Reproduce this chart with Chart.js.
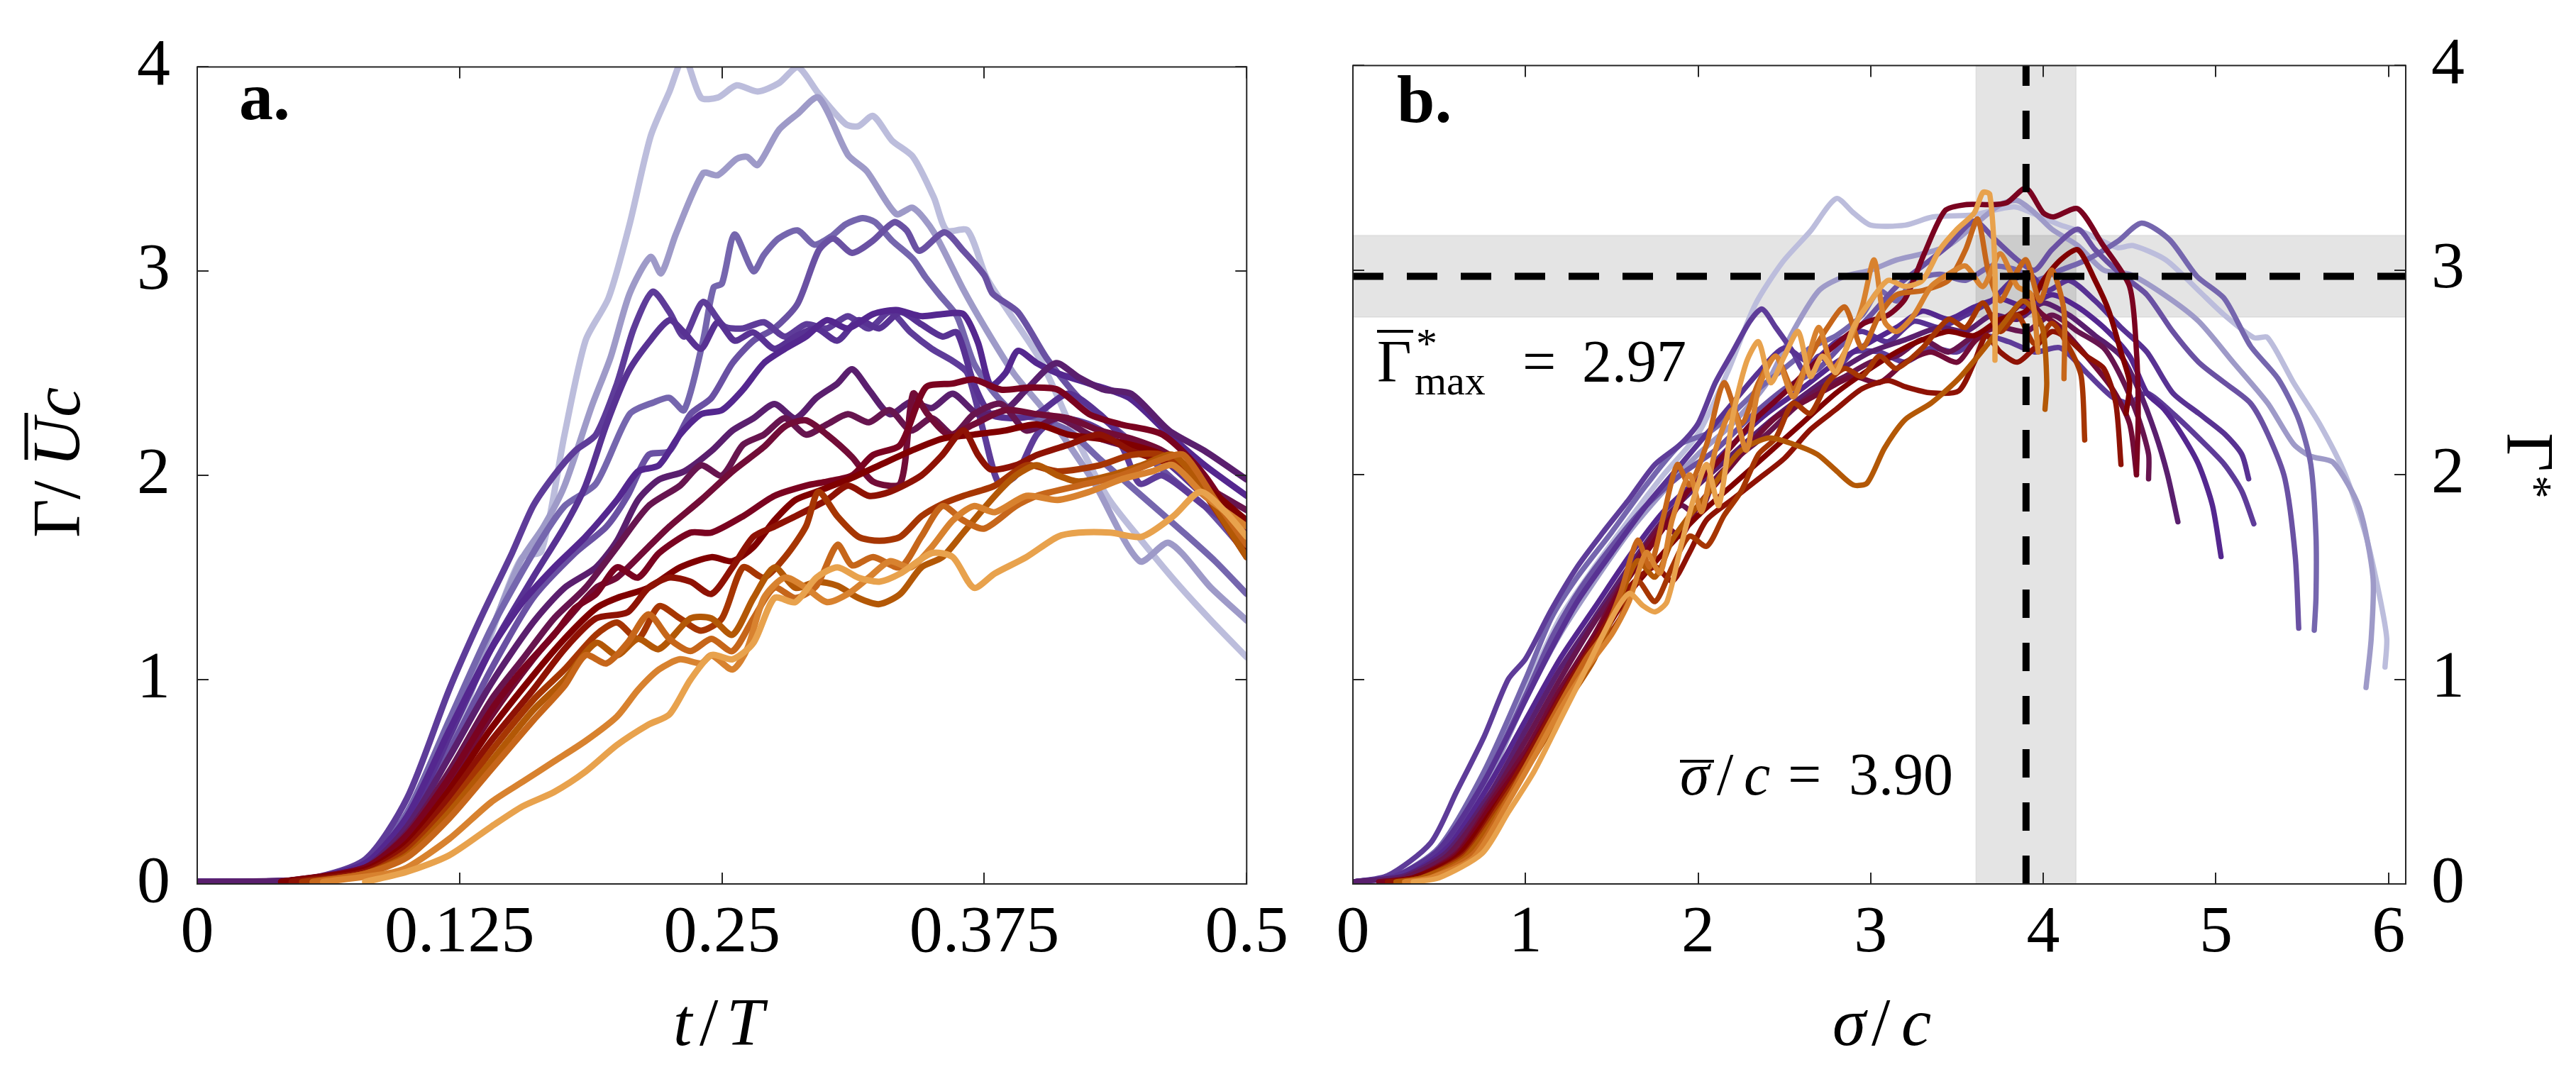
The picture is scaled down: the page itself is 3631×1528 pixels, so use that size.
<!DOCTYPE html>
<html><head><meta charset="utf-8">
<style>
html,body{margin:0;padding:0;background:#fff;width:3631px;height:1528px;overflow:hidden}
canvas{position:absolute;top:0}
#ca{left:0}
#cb{left:1830px}
.pre{position:absolute;left:-9999px;top:0;font-family:'Liberation Serif'}
</style>
<script src="https://cdn.jsdelivr.net/npm/chart.js@4.4.1/dist/chart.umd.min.js"></script>
</head><body>
<span class="pre">0 1 2 <i>t</i> <b>a.</b></span>
<canvas id="ca" width="1830" height="1528"></canvas>
<canvas id="cb" width="1801" height="1528"></canvas>
<script>
// ---------------- DATA ----------------
const aTicksX = [0, 0.125, 0.25, 0.375, 0.5];
const bTicksX = [0, 1, 2, 3, 4, 5, 6];
const yTicks = [0, 1, 2, 3, 4];
const bXMax = 6.1;
const gammaMax = 2.97, gammaHalf = 0.2;
const sigmaMean = 3.90, sigmaHalf = 0.29;

// Panel a: Gamma / (U c) versus t/T, one array per run ([t/T, value])
const a01 = [[0,0.01],[0.04,0.01],[0.07,0.05],[0.09,0.15],[0.106,0.34],[0.125,0.78],[0.138,1.16],[0.148,1.45],[0.155,1.6],[0.164,1.63],[0.175,2.2],[0.185,2.66],[0.196,2.87],[0.206,3.23],[0.216,3.66],[0.225,3.88],[0.232,4.05],[0.24,3.85],[0.248,3.85],[0.257,3.91],[0.267,3.88],[0.277,3.92],[0.286,4.0],[0.296,3.87],[0.309,3.72],[0.315,3.71],[0.322,3.76],[0.331,3.64],[0.341,3.56],[0.351,3.36],[0.357,3.2],[0.367,3.2],[0.376,2.97],[0.386,2.81],[0.402,2.56],[0.418,2.2],[0.434,1.89],[0.45,1.68],[0.467,1.47],[0.483,1.29],[0.5,1.11]];
const a02 = [[0,0.01],[0.04,0.01],[0.07,0.05],[0.09,0.15],[0.113,0.52],[0.129,0.96],[0.142,1.29],[0.154,1.58],[0.165,1.75],[0.175,1.95],[0.188,2.34],[0.197,2.58],[0.206,2.89],[0.216,3.07],[0.221,2.99],[0.228,3.18],[0.241,3.48],[0.248,3.47],[0.257,3.55],[0.262,3.56],[0.267,3.52],[0.277,3.69],[0.286,3.77],[0.296,3.85],[0.31,3.57],[0.319,3.49],[0.333,3.28],[0.341,3.31],[0.351,3.19],[0.365,2.91],[0.375,2.73],[0.389,2.5],[0.405,2.3],[0.427,1.97],[0.449,1.58],[0.463,1.67],[0.483,1.45],[0.5,1.29]];
const a03 = [[0,0.01],[0.05,0.02],[0.08,0.1],[0.1,0.35],[0.12,0.8],[0.14,1.25],[0.16,1.62],[0.175,1.85],[0.19,1.96],[0.206,2.3],[0.218,2.36],[0.225,2.38],[0.232,2.32],[0.241,2.66],[0.246,2.92],[0.25,2.94],[0.256,3.18],[0.265,3.0],[0.27,3.08],[0.277,3.16],[0.286,3.2],[0.294,3.13],[0.302,3.17],[0.309,3.23],[0.317,3.26],[0.323,3.24],[0.331,3.15],[0.341,3.06],[0.347,2.97],[0.354,2.88],[0.362,2.78],[0.37,2.55],[0.38,2.4],[0.39,2.3],[0.4,2.28],[0.415,2.22],[0.43,2.08],[0.45,1.9],[0.47,1.72],[0.485,1.58],[0.5,1.42]];
const a04 = [[0,0.01],[0.05,0.02],[0.08,0.1],[0.1,0.3],[0.12,0.65],[0.14,1.05],[0.16,1.4],[0.18,1.62],[0.195,1.75],[0.205,1.9],[0.215,2.1],[0.225,2.12],[0.235,2.3],[0.245,2.38],[0.255,2.55],[0.265,2.66],[0.275,2.72],[0.286,2.84],[0.296,3.1],[0.303,3.16],[0.312,3.09],[0.322,3.15],[0.332,3.24],[0.338,3.2],[0.344,3.1],[0.356,3.19],[0.365,3.1],[0.375,2.98],[0.379,2.89],[0.391,2.8],[0.405,2.57],[0.42,2.38],[0.435,2.25],[0.45,2.12],[0.465,1.98],[0.48,1.85],[0.5,1.62]];
const a05 = [[0,0.01],[0.05,0.02],[0.08,0.12],[0.1,0.42],[0.12,0.95],[0.135,1.3],[0.15,1.62],[0.16,1.85],[0.17,2.0],[0.18,2.12],[0.19,2.2],[0.2,2.45],[0.208,2.72],[0.217,2.9],[0.225,2.8],[0.232,2.68],[0.241,2.85],[0.251,2.73],[0.26,2.72],[0.27,2.75],[0.28,2.68],[0.29,2.74],[0.3,2.72],[0.31,2.78],[0.32,2.72],[0.33,2.8],[0.34,2.7],[0.35,2.62],[0.36,2.56],[0.367,2.5],[0.375,2.2],[0.382,1.96],[0.39,2.0],[0.4,2.2],[0.41,2.28],[0.425,2.25],[0.44,2.15],[0.449,1.96],[0.46,2.0],[0.48,1.85],[0.5,1.7]];
const a06 = [[0,0.01],[0.05,0.02],[0.08,0.1],[0.1,0.3],[0.12,0.72],[0.14,1.15],[0.16,1.5],[0.175,1.75],[0.185,1.95],[0.195,2.25],[0.205,2.5],[0.215,2.65],[0.225,2.76],[0.232,2.7],[0.24,2.62],[0.248,2.75],[0.256,2.66],[0.265,2.7],[0.275,2.62],[0.285,2.68],[0.295,2.72],[0.305,2.66],[0.315,2.76],[0.325,2.72],[0.335,2.8],[0.345,2.74],[0.355,2.68],[0.362,2.7],[0.37,2.45],[0.378,2.3],[0.39,2.28],[0.4,2.3],[0.415,2.4],[0.43,2.3],[0.445,2.15],[0.46,2.08],[0.48,1.9],[0.5,1.75]];
const a07 = [[0,0.01],[0.05,0.02],[0.08,0.1],[0.1,0.33],[0.12,0.75],[0.14,1.15],[0.155,1.38],[0.17,1.55],[0.185,1.7],[0.2,1.88],[0.21,2.02],[0.22,2.05],[0.23,2.2],[0.24,2.3],[0.25,2.32],[0.26,2.42],[0.27,2.55],[0.28,2.62],[0.29,2.68],[0.3,2.76],[0.31,2.72],[0.322,2.79],[0.333,2.81],[0.345,2.78],[0.355,2.79],[0.365,2.79],[0.372,2.65],[0.378,2.44],[0.385,2.5],[0.391,2.61],[0.4,2.55],[0.41,2.5],[0.425,2.45],[0.444,2.38],[0.463,2.2],[0.48,2.05],[0.5,1.9]];
const a08 = [[0,0.01],[0.05,0.02],[0.08,0.08],[0.1,0.28],[0.12,0.62],[0.14,0.98],[0.16,1.28],[0.175,1.45],[0.19,1.55],[0.2,1.68],[0.21,1.88],[0.22,1.98],[0.232,2.02],[0.245,2.12],[0.255,2.22],[0.265,2.28],[0.275,2.35],[0.285,2.28],[0.295,2.38],[0.305,2.45],[0.312,2.52],[0.32,2.42],[0.33,2.3],[0.34,2.36],[0.35,2.33],[0.36,2.4],[0.372,2.3],[0.385,2.32],[0.395,2.42],[0.409,2.55],[0.42,2.48],[0.432,2.42],[0.445,2.4],[0.463,2.22],[0.48,2.12],[0.5,1.98]];
const a09 = [[0.04,0.01],[0.08,0.08],[0.1,0.25],[0.12,0.55],[0.14,0.9],[0.155,1.1],[0.17,1.3],[0.185,1.45],[0.2,1.65],[0.215,1.85],[0.23,1.95],[0.24,2.05],[0.25,2.0],[0.26,2.15],[0.27,2.2],[0.28,2.28],[0.29,2.2],[0.3,2.25],[0.31,2.3],[0.32,2.26],[0.33,2.32],[0.34,2.22],[0.35,2.28],[0.36,2.2],[0.37,2.3],[0.383,2.35],[0.395,2.22],[0.41,2.28],[0.425,2.2],[0.44,2.15],[0.46,2.1],[0.48,1.95],[0.5,1.83]];
const a10 = [[0.04,0.01],[0.08,0.07],[0.1,0.22],[0.12,0.5],[0.14,0.82],[0.16,1.1],[0.175,1.28],[0.19,1.45],[0.2,1.5],[0.215,1.65],[0.225,1.75],[0.24,1.88],[0.255,2.02],[0.27,2.14],[0.28,2.24],[0.29,2.27],[0.3,2.2],[0.312,2.09],[0.322,1.97],[0.335,1.96],[0.341,2.4],[0.348,2.3],[0.358,2.2],[0.37,2.25],[0.385,2.32],[0.4,2.3],[0.415,2.28],[0.43,2.22],[0.445,2.18],[0.46,2.12],[0.48,1.98],[0.5,1.72]];
const a11 = [[0.04,0.01],[0.08,0.08],[0.1,0.24],[0.12,0.52],[0.14,0.85],[0.155,1.05],[0.17,1.22],[0.18,1.35],[0.19,1.42],[0.2,1.55],[0.21,1.5],[0.22,1.62],[0.235,1.72],[0.245,1.72],[0.26,1.8],[0.275,1.9],[0.29,1.95],[0.3,1.97],[0.312,2.0],[0.322,2.1],[0.335,2.15],[0.347,2.43],[0.36,2.45],[0.37,2.47],[0.383,2.42],[0.396,2.43],[0.41,2.42],[0.425,2.3],[0.44,2.25],[0.46,2.2],[0.48,2.0],[0.5,1.68]];
const a12 = [[0.04,0.01],[0.08,0.07],[0.1,0.2],[0.12,0.46],[0.14,0.76],[0.16,1.02],[0.175,1.2],[0.19,1.35],[0.2,1.4],[0.215,1.45],[0.23,1.55],[0.245,1.6],[0.255,1.58],[0.265,1.65],[0.275,1.78],[0.285,1.88],[0.295,1.92],[0.31,1.98],[0.325,2.05],[0.34,2.12],[0.355,2.18],[0.37,2.2],[0.385,2.22],[0.4,2.25],[0.415,2.2],[0.43,2.18],[0.445,2.15],[0.46,2.1],[0.48,1.95],[0.5,1.78]];
const a13 = [[0.045,0.01],[0.08,0.06],[0.1,0.18],[0.12,0.42],[0.14,0.7],[0.16,0.95],[0.175,1.15],[0.19,1.3],[0.205,1.33],[0.215,1.45],[0.225,1.5],[0.235,1.48],[0.245,1.42],[0.255,1.55],[0.265,1.7],[0.275,1.75],[0.285,1.8],[0.3,1.88],[0.31,1.95],[0.32,1.9],[0.33,1.92],[0.345,2.0],[0.355,2.1],[0.365,2.22],[0.372,2.1],[0.378,2.03],[0.39,2.05],[0.4,2.1],[0.415,2.15],[0.43,2.2],[0.445,2.12],[0.465,2.05],[0.48,1.95],[0.5,1.65]];
const a14 = [[0.05,0.01],[0.08,0.05],[0.1,0.16],[0.12,0.38],[0.14,0.65],[0.16,0.9],[0.175,1.05],[0.19,1.22],[0.2,1.28],[0.21,1.2],[0.22,1.36],[0.23,1.3],[0.24,1.24],[0.25,1.3],[0.26,1.55],[0.27,1.5],[0.28,1.6],[0.29,1.75],[0.296,1.92],[0.305,1.8],[0.315,1.7],[0.325,1.68],[0.335,1.7],[0.345,1.8],[0.355,1.86],[0.365,1.9],[0.38,1.95],[0.395,2.05],[0.41,2.02],[0.43,2.05],[0.445,2.1],[0.46,2.1],[0.475,1.98],[0.5,1.6]];
const a15 = [[0.055,0.01],[0.08,0.05],[0.1,0.14],[0.12,0.35],[0.14,0.6],[0.16,0.85],[0.175,1.0],[0.19,1.18],[0.2,1.12],[0.21,1.2],[0.22,1.15],[0.235,1.3],[0.245,1.3],[0.255,1.22],[0.265,1.4],[0.275,1.55],[0.285,1.45],[0.295,1.48],[0.305,1.46],[0.315,1.4],[0.325,1.37],[0.335,1.42],[0.345,1.55],[0.355,1.6],[0.365,1.72],[0.38,1.9],[0.39,2.0],[0.4,2.05],[0.41,2.0],[0.42,1.97],[0.435,2.0],[0.45,2.05],[0.465,2.1],[0.48,1.92],[0.5,1.6]];
const a16 = [[0.055,0.01],[0.08,0.05],[0.1,0.13],[0.12,0.32],[0.14,0.56],[0.16,0.8],[0.175,0.97],[0.185,1.12],[0.195,1.08],[0.205,1.18],[0.215,1.32],[0.225,1.2],[0.235,1.14],[0.245,1.2],[0.255,1.14],[0.265,1.3],[0.275,1.45],[0.285,1.4],[0.295,1.46],[0.305,1.66],[0.312,1.56],[0.322,1.6],[0.335,1.55],[0.345,1.7],[0.355,1.85],[0.365,1.78],[0.375,1.74],[0.39,1.85],[0.4,1.9],[0.42,1.95],[0.44,2.0],[0.46,2.08],[0.47,2.1],[0.485,1.88],[0.5,1.66]];
const a17 = [[0.06,0.01],[0.09,0.05],[0.1,0.08],[0.12,0.22],[0.14,0.4],[0.155,0.5],[0.17,0.6],[0.185,0.7],[0.2,0.82],[0.21,0.95],[0.22,1.05],[0.23,1.1],[0.24,1.08],[0.245,1.12],[0.255,1.05],[0.262,1.15],[0.27,1.4],[0.28,1.5],[0.29,1.45],[0.3,1.38],[0.31,1.42],[0.32,1.5],[0.33,1.58],[0.34,1.55],[0.35,1.65],[0.36,1.78],[0.37,1.85],[0.38,1.82],[0.395,1.9],[0.41,1.88],[0.425,1.92],[0.44,1.98],[0.455,2.02],[0.465,2.05],[0.48,1.9],[0.5,1.75]];
const a18 = [[0.08,0.01],[0.1,0.06],[0.12,0.14],[0.14,0.28],[0.155,0.38],[0.17,0.45],[0.185,0.55],[0.2,0.68],[0.215,0.78],[0.225,0.83],[0.235,1.0],[0.245,1.12],[0.255,1.1],[0.265,1.18],[0.275,1.4],[0.285,1.38],[0.295,1.5],[0.305,1.55],[0.315,1.5],[0.325,1.48],[0.335,1.52],[0.35,1.62],[0.36,1.6],[0.37,1.45],[0.38,1.52],[0.395,1.6],[0.41,1.7],[0.42,1.72],[0.435,1.72],[0.45,1.7],[0.465,1.8],[0.478,1.92],[0.49,1.82],[0.5,1.7]];

// Panel b: Gamma* versus sigma/c, one array per run ([sigma/c, value])
const b01 = [[0,0.01],[0.3,0.04],[0.5,0.15],[0.75,0.5],[1.0,0.95],[1.2,1.3],[1.4,1.55],[1.6,1.78],[1.8,2.0],[2.0,2.2],[2.17,2.5],[2.33,2.83],[2.49,3.04],[2.65,3.19],[2.8,3.35],[2.9,3.28],[3.0,3.22],[3.2,3.22],[3.36,3.26],[3.59,3.27],[3.83,3.31],[3.96,3.27],[4.1,3.22],[4.25,3.18],[4.43,3.11],[4.52,3.12],[4.71,3.05],[4.9,2.9],[5.05,2.78],[5.22,2.67],[5.3,2.67],[5.45,2.45],[5.6,2.25],[5.75,2.0],[5.87,1.7],[5.95,1.4],[5.99,1.2],[5.98,1.06]];
const b02 = [[0,0.01],[0.3,0.04],[0.5,0.14],[0.75,0.45],[1.0,0.9],[1.2,1.22],[1.4,1.48],[1.6,1.72],[1.8,1.92],[2.0,2.1],[2.2,2.25],[2.4,2.45],[2.55,2.7],[2.7,2.9],[2.85,2.97],[3.0,3.0],[3.15,3.05],[3.3,3.08],[3.45,3.12],[3.6,3.22],[3.75,3.32],[3.85,3.34],[3.95,3.28],[4.05,3.2],[4.2,3.12],[4.35,3.0],[4.5,2.98],[4.7,2.88],[4.9,2.75],[5.1,2.55],[5.3,2.35],[5.45,2.15],[5.55,2.09],[5.68,2.06],[5.83,1.84],[5.91,1.5],[5.9,1.2],[5.87,0.96]];
const b03 = [[0,0.01],[0.25,0.04],[0.5,0.18],[0.76,0.55],[1.0,1.0],[1.15,1.3],[1.3,1.5],[1.5,1.72],[1.7,1.95],[1.9,2.15],[2.05,2.2],[2.2,2.3],[2.35,2.42],[2.5,2.52],[2.65,2.62],[2.8,2.68],[2.95,2.78],[3.05,2.9],[3.15,2.85],[3.25,2.95],[3.4,2.98],[3.55,2.95],[3.7,3.02],[3.85,3.0],[3.95,2.95],[4.1,3.0],[4.25,3.05],[4.43,3.14],[4.57,3.23],[4.73,3.15],[4.89,2.97],[5.05,2.86],[5.2,2.63],[5.36,2.47],[5.48,2.27],[5.55,2.05],[5.58,1.7],[5.58,1.4],[5.57,1.24]];
const b04 = [[0,0.01],[0.25,0.04],[0.5,0.16],[0.76,0.5],[1.0,0.92],[1.15,1.2],[1.3,1.42],[1.5,1.65],[1.7,1.85],[1.9,2.0],[2.1,2.12],[2.3,2.28],[2.5,2.42],[2.7,2.52],[2.85,2.65],[3.0,2.78],[3.15,2.92],[3.3,3.02],[3.45,3.12],[3.6,3.24],[3.72,3.15],[3.85,3.05],[3.95,3.0],[4.05,3.1],[4.2,3.2],[4.3,3.1],[4.45,2.98],[4.6,2.88],[4.75,2.7],[4.9,2.55],[5.05,2.45],[5.2,2.35],[5.3,2.2],[5.4,1.98],[5.46,1.6],[5.48,1.25]];
const b05 = [[0,0.01],[0.2,0.04],[0.45,0.2],[0.6,0.45],[0.76,0.72],[0.9,1.0],[1.0,1.1],[1.15,1.34],[1.3,1.55],[1.45,1.72],[1.6,1.88],[1.75,2.05],[1.9,2.15],[2.0,2.25],[2.1,2.45],[2.2,2.6],[2.3,2.75],[2.37,2.81],[2.45,2.72],[2.55,2.6],[2.62,2.5],[2.7,2.58],[2.8,2.52],[2.9,2.6],[3.05,2.6],[3.2,2.55],[3.35,2.62],[3.5,2.6],[3.65,2.68],[3.8,2.65],[3.95,2.6],[4.1,2.62],[4.25,2.5],[4.4,2.38],[4.5,2.35],[4.6,2.4],[4.75,2.3],[4.9,2.18],[5.05,2.05],[5.15,1.92],[5.22,1.76]];
const b06 = [[0,0.01],[0.25,0.04],[0.5,0.17],[0.76,0.5],[1.0,0.9],[1.15,1.15],[1.3,1.38],[1.5,1.62],[1.7,1.85],[1.9,2.05],[2.05,2.2],[2.2,2.35],[2.35,2.5],[2.5,2.62],[2.65,2.55],[2.8,2.65],[2.95,2.7],[3.1,2.65],[3.25,2.75],[3.4,2.72],[3.55,2.78],[3.7,2.85],[3.82,2.95],[3.92,2.98],[4.02,2.9],[4.15,2.95],[4.3,2.85],[4.45,2.72],[4.6,2.6],[4.75,2.4],[4.9,2.3],[5.05,2.2],[5.15,2.1],[5.19,1.98]];
const b07 = [[0,0.01],[0.3,0.04],[0.55,0.18],[0.8,0.5],[1.0,0.8],[1.2,1.1],[1.4,1.35],[1.6,1.6],[1.8,1.82],[2.0,1.98],[2.2,2.15],[2.4,2.3],[2.6,2.42],[2.8,2.55],[3.0,2.65],[3.15,2.72],[3.3,2.8],[3.45,2.76],[3.6,2.82],[3.75,2.86],[3.9,2.82],[4.05,2.88],[4.2,2.82],[4.35,2.72],[4.5,2.58],[4.6,2.4],[4.7,2.32],[4.8,2.2],[4.9,2.05],[4.98,1.85],[5.03,1.6]];
const b08 = [[0,0.01],[0.3,0.04],[0.55,0.16],[0.8,0.45],[1.0,0.75],[1.2,1.05],[1.4,1.3],[1.6,1.55],[1.8,1.78],[2.0,1.95],[2.2,2.1],[2.4,2.25],[2.6,2.38],[2.8,2.5],[3.0,2.6],[3.2,2.66],[3.4,2.72],[3.55,2.7],[3.7,2.78],[3.85,2.76],[4.0,2.84],[4.15,2.78],[4.3,2.68],[4.45,2.58],[4.55,2.42],[4.65,2.2],[4.72,2.0],[4.78,1.77]];
const b09 = [[0.15,0.01],[0.3,0.03],[0.55,0.14],[0.8,0.42],[1.0,0.7],[1.2,1.0],[1.4,1.28],[1.6,1.52],[1.75,1.72],[1.9,1.85],[2.0,1.8],[2.1,1.98],[2.25,2.1],[2.4,2.2],[2.55,2.32],[2.7,2.42],[2.85,2.48],[3.0,2.55],[3.15,2.58],[3.3,2.66],[3.45,2.6],[3.6,2.68],[3.75,2.72],[3.9,2.7],[4.05,2.78],[4.2,2.7],[4.35,2.62],[4.45,2.48],[4.55,2.28],[4.61,2.1],[4.61,1.98]];
const b10 = [[0.15,0.01],[0.35,0.03],[0.6,0.15],[0.8,0.4],[1.0,0.65],[1.2,0.95],[1.4,1.22],[1.55,1.45],[1.7,1.65],[1.8,1.75],[1.9,1.7],[2.0,1.85],[2.15,2.0],[2.3,2.15],[2.45,2.28],[2.6,2.35],[2.75,2.42],[2.9,2.48],[3.05,2.45],[3.2,2.55],[3.35,2.6],[3.5,2.55],[3.6,2.65],[3.7,2.72],[3.8,2.78],[3.9,2.85],[4.0,2.78],[4.1,2.72],[4.25,2.58],[4.4,2.42],[4.5,2.25],[4.54,2.0]];
const b11 = [[0.15,0.01],[0.35,0.03],[0.6,0.14],[0.8,0.38],[1.0,0.62],[1.2,0.92],[1.4,1.2],[1.54,1.42],[1.7,1.62],[1.85,1.8],[1.94,1.92],[2.1,2.05],[2.33,2.27],[2.5,2.4],[2.72,2.58],[2.96,2.74],[3.1,2.78],[3.2,2.86],[3.31,3.08],[3.43,3.29],[3.55,3.32],[3.7,3.32],[3.79,3.33],[3.9,3.4],[4.0,3.28],[4.06,3.26],[4.2,3.3],[4.34,3.13],[4.5,2.92],[4.54,2.6],[4.55,2.3],[4.54,2.0]];
const b12 = [[0.2,0.01],[0.35,0.03],[0.6,0.13],[0.8,0.35],[1.0,0.6],[1.2,0.88],[1.4,1.15],[1.6,1.42],[1.8,1.62],[2.0,1.8],[2.2,1.95],[2.4,2.1],[2.6,2.25],[2.8,2.4],[3.0,2.52],[3.15,2.6],[3.3,2.66],[3.45,2.7],[3.6,2.68],[3.75,2.76],[3.9,2.8],[4.0,2.95],[4.1,3.05],[4.2,3.1],[4.3,2.95],[4.38,2.8],[4.45,2.6],[4.5,2.45],[4.48,2.3]];
const b13 = [[0.2,0.01],[0.4,0.03],[0.65,0.15],[0.85,0.4],[1.05,0.68],[1.25,0.98],[1.45,1.25],[1.6,1.45],[1.75,1.55],[1.85,1.48],[1.95,1.62],[2.05,1.78],[2.2,1.88],[2.35,1.98],[2.5,2.08],[2.65,2.22],[2.8,2.32],[2.95,2.42],[3.1,2.46],[3.2,2.43],[3.35,2.4],[3.51,2.41],[3.6,2.55],[3.67,2.68],[3.75,2.6],[3.85,2.55],[3.95,2.62],[4.05,2.7],[4.15,2.66],[4.25,2.58],[4.35,2.52],[4.42,2.35],[4.45,2.05]];
const b14 = [[0.25,0.01],[0.4,0.03],[0.65,0.14],[0.85,0.38],[1.05,0.64],[1.25,0.92],[1.4,1.12],[1.55,1.3],[1.65,1.48],[1.75,1.38],[1.85,1.55],[1.95,1.7],[2.05,1.65],[2.15,1.8],[2.25,1.92],[2.35,2.1],[2.45,2.18],[2.55,2.35],[2.65,2.3],[2.75,2.45],[2.85,2.52],[2.95,2.48],[3.05,2.58],[3.15,2.52],[3.3,2.62],[3.45,2.76],[3.55,2.72],[3.65,2.84],[3.75,2.7],[3.85,2.78],[3.95,2.64],[4.05,2.74],[4.15,2.62],[4.22,2.48],[4.24,2.17]];
const b15 = [[0.25,0.01],[0.4,0.03],[0.65,0.13],[0.85,0.36],[1.05,0.62],[1.25,0.9],[1.4,1.1],[1.55,1.4],[1.65,1.58],[1.75,1.5],[1.85,1.68],[1.95,1.8],[2.05,1.9],[2.15,2.02],[2.25,2.12],[2.41,2.18],[2.55,2.15],[2.69,2.1],[2.8,2.02],[2.9,1.95],[2.98,1.96],[3.08,2.13],[3.2,2.27],[3.35,2.35],[3.51,2.47],[3.67,2.63],[3.78,2.75],[3.88,2.85],[3.95,2.8],[4.0,2.7],[4.02,2.45],[4.01,2.32]];
const b16 = [[0.3,0.01],[0.45,0.03],[0.7,0.15],[0.9,0.42],[1.05,0.65],[1.2,0.88],[1.35,1.1],[1.45,1.22],[1.55,1.42],[1.65,1.68],[1.72,1.55],[1.8,1.8],[1.88,2.05],[1.95,1.95],[2.05,2.15],[2.15,2.45],[2.25,2.25],[2.35,2.45],[2.45,2.58],[2.55,2.42],[2.65,2.58],[2.75,2.72],[2.85,2.82],[2.95,2.62],[3.05,2.78],[3.15,2.88],[3.3,2.9],[3.45,2.95],[3.55,3.1],[3.62,3.25],[3.68,3.0],[3.75,2.85],[3.82,2.95],[3.9,3.05],[3.98,2.85],[4.05,3.0],[4.12,2.8],[4.12,2.47]];
const b17 = [[0.3,0.01],[0.45,0.03],[0.7,0.13],[0.9,0.4],[1.05,0.62],[1.2,0.85],[1.35,1.05],[1.5,1.22],[1.6,1.38],[1.7,1.62],[1.78,1.52],[1.85,1.78],[1.95,2.0],[2.02,1.82],[2.1,2.12],[2.2,2.32],[2.28,2.12],[2.35,2.42],[2.45,2.58],[2.55,2.38],[2.62,2.52],[2.7,2.72],[2.78,2.52],[2.85,2.6],[2.95,2.82],[3.02,3.05],[3.08,2.75],[3.15,2.7],[3.25,2.78],[3.35,2.92],[3.45,2.98],[3.55,3.02],[3.65,2.92],[3.75,3.08],[3.85,2.92],[3.93,2.88],[3.97,2.6]];
const b18 = [[0.35,0.01],[0.5,0.03],[0.75,0.15],[0.9,0.35],[1.05,0.55],[1.2,0.8],[1.35,1.05],[1.5,1.3],[1.6,1.42],[1.68,1.36],[1.75,1.33],[1.82,1.38],[1.9,1.65],[1.98,1.9],[2.05,2.05],[2.12,1.85],[2.2,2.28],[2.28,2.55],[2.35,2.65],[2.42,2.45],[2.5,2.58],[2.58,2.7],[2.65,2.48],[2.72,2.58],[2.8,2.5],[2.9,2.72],[3.0,2.85],[3.1,2.95],[3.2,2.92],[3.3,2.95],[3.4,3.1],[3.5,3.2],[3.6,3.28],[3.65,3.38],[3.69,3.37],[3.72,3.0],[3.72,2.56]];

const aRuns = [a01,a02,a03,a04,a05,a06,a07,a08,a09,a10,a11,a12,a13,a14,a15,a16,a17,a18];
const bRuns = [b01,b02,b03,b04,b05,b06,b07,b08,b09,b10,b11,b12,b13,b14,b15,b16,b17,b18];
const palette = ['#bcbddc','#9e9ac8','#7566ae','#6a51a3','#5e3c99','#583293','#54278f','#5a1f6e','#67154f','#720c37','#7a0320','#800000','#8e1204','#a63603','#b35806','#c6661a','#d8822f','#e8a24d'];

// ---------------- DRAWING ----------------
const SERIF = "'Liberation Serif','Times New Roman','DejaVu Serif',serif";
const TICK_FONT = {family: SERIF, size: 94};
const TL = 16;

function toXY(arr){ return arr.map(p => ({x: p[0], y: p[1]})); }

function runDatasets(runs, width){
  return runs.map((r, i) => ({
    data: toXY(r), borderColor: palette[i], borderWidth: width,
    pointRadius: 0, tension: 0.25, fill: false, clip: 0,
    borderJoinStyle: 'round', borderCapStyle: 'round', order: -i
  }));
}

function drawFrame(chart, xTicks, yScale){
  const ctx = chart.ctx, a = chart.chartArea;
  const xs = chart.scales.x, ys = chart.scales[yScale];
  ctx.save();
  ctx.strokeStyle = '#262626';
  ctx.lineWidth = 2;
  ctx.strokeRect(a.left, a.top, a.right - a.left, a.bottom - a.top);
  ctx.beginPath();
  for (const v of xTicks){
    const px = Math.round(xs.getPixelForValue(v));
    ctx.moveTo(px, a.bottom); ctx.lineTo(px, a.bottom - TL);
    ctx.moveTo(px, a.top); ctx.lineTo(px, a.top + TL);
  }
  for (const v of yTicks){
    const py = Math.round(ys.getPixelForValue(v));
    ctx.moveTo(a.left, py); ctx.lineTo(a.left + TL, py);
    ctx.moveTo(a.right, py); ctx.lineTo(a.right - TL, py);
  }
  ctx.stroke();
  ctx.restore();
}

function txt(ctx, s, x, y, font){ ctx.font = font; ctx.fillText(s, x, y); }
function bar(ctx, x1, x2, y, w){ ctx.fillRect(x1, y - w/2, x2 - x1, w); }

function build(){
  // ---------- Panel a ----------
  const plugA = {
    id: 'frameA',
    afterDatasetsDraw(chart){
      drawFrame(chart, aTicksX, 'y');
      const ctx = chart.ctx;
      ctx.save();
      ctx.fillStyle = '#000';
      ctx.textAlign = 'left'; ctx.textBaseline = 'alphabetic';
      txt(ctx, 'a.', 337, 168, `bold 96px ${SERIF}`);
      txt(ctx, 't', 949, 1473, `italic 95px ${SERIF}`);
      txt(ctx, '/', 986, 1473, `95px ${SERIF}`);
      txt(ctx, 'T', 1024, 1473, `italic 95px ${SERIF}`);
      ctx.translate(112, 758);
      ctx.rotate(-Math.PI/2);
      txt(ctx, 'Γ', 0, 0, `95px ${SERIF}`);
      txt(ctx, '/', 54, 0, `95px ${SERIF}`);
      txt(ctx, 'U', 100, 0, `italic 95px ${SERIF}`);
      txt(ctx, 'c', 170, 0, `italic 95px ${SERIF}`);
      bar(ctx, 110, 176, -75, 5);
      ctx.restore();
    }
  };

  new Chart(document.getElementById('ca'), {
    type: 'line',
    data: { datasets: runDatasets(aRuns, 9) },
    options: {
      responsive: false, animation: false, devicePixelRatio: 1,
      layout: { padding: { top: 62, right: 70, bottom: 0, left: 0 } },
      plugins: { legend: { display: false }, tooltip: { enabled: false } },
      scales: {
        x: {
          type: 'linear', min: 0, max: 0.5,
          afterBuildTicks: s => { s.ticks = aTicksX.map(v => ({ value: v })); },
          afterFit: s => { s.height = 282; },
          grid: { display: false, drawTicks: false }, border: { display: false },
          ticks: { font: TICK_FONT, color: '#000', padding: 14, maxRotation: 0, autoSkip: false, callback: v => String(v) }
        },
        y: {
          type: 'linear', min: 0, max: 4,
          afterBuildTicks: s => { s.ticks = yTicks.map(v => ({ value: v })); },
          afterFit: s => { s.width = 278; },
          grid: { display: false, drawTicks: false }, border: { display: false },
          ticks: { font: TICK_FONT, color: '#000', padding: 38, callback: v => String(v) }
        }
      }
    },
    plugins: [plugA]
  });

  // ---------- Panel b ----------
  const plugB = {
    id: 'frameB',
    beforeDatasetsDraw(chart){
      const ctx = chart.ctx, a = chart.chartArea;
      const xs = chart.scales.x, ys = chart.scales.y;
      ctx.save();
      ctx.fillStyle = 'rgba(0,0,0,0.105)';
      ctx.strokeStyle = 'rgba(0,0,0,0.06)';
      ctx.lineWidth = 2;
      const y1 = ys.getPixelForValue(gammaMax + gammaHalf), y2 = ys.getPixelForValue(gammaMax - gammaHalf);
      ctx.fillRect(a.left, y1, a.right - a.left, y2 - y1);
      ctx.strokeRect(a.left, y1, a.right - a.left, y2 - y1);
      const x1 = xs.getPixelForValue(sigmaMean - sigmaHalf), x2 = xs.getPixelForValue(sigmaMean + sigmaHalf);
      ctx.fillRect(x1, a.top, x2 - x1, a.bottom - a.top);
      ctx.strokeRect(x1, a.top, x2 - x1, a.bottom - a.top);
      ctx.restore();
    },
    afterDatasetsDraw(chart){
      drawFrame(chart, bTicksX, 'y');
      const ctx = chart.ctx;
      ctx.save();
      ctx.fillStyle = '#000';
      ctx.textAlign = 'left'; ctx.textBaseline = 'alphabetic';
      txt(ctx, 'b.', 139, 172, `bold 96px ${SERIF}`);
      txt(ctx, 'Γ', 111, 538, `84px ${SERIF}`);
      bar(ctx, 111, 162, 467, 4);
      txt(ctx, '*', 166, 504, `60px ${SERIF}`);
      txt(ctx, 'max', 164, 556, `58px ${SERIF}`);
      txt(ctx, '=', 316, 538, `84px ${SERIF}`);
      txt(ctx, '2.97', 400, 538, `84px ${SERIF}`);
      txt(ctx, 'σ', 538, 1120, `italic 84px ${SERIF}`);
      bar(ctx, 538, 586, 1073, 4);
      txt(ctx, '/', 590, 1120, `84px ${SERIF}`);
      txt(ctx, 'c', 628, 1120, `italic 84px ${SERIF}`);
      txt(ctx, '=', 690, 1120, `84px ${SERIF}`);
      txt(ctx, '3.90', 776, 1120, `84px ${SERIF}`);
      txt(ctx, 'σ', 753, 1473, `italic 95px ${SERIF}`);
      txt(ctx, '/', 808, 1473, `95px ${SERIF}`);
      txt(ctx, 'c', 850, 1473, `italic 95px ${SERIF}`);
      ctx.translate(1704, 610);
      ctx.rotate(Math.PI/2);
      txt(ctx, 'Γ', 0, 0, `95px ${SERIF}`);
      txt(ctx, '*', 60, -18, `66px ${SERIF}`);
      ctx.restore();
    }
  };

  const bData = runDatasets(bRuns, 7.5);
  bData.push({
    data: [{x: 0, y: gammaMax}, {x: bXMax, y: gammaMax}],
    borderColor: '#000', borderWidth: 10, borderDash: [43, 33], borderCapStyle: 'butt',
    pointRadius: 0, tension: 0, clip: 0, order: -100
  });
  bData.push({
    data: [{x: sigmaMean, y: 0}, {x: sigmaMean, y: 4}],
    borderColor: '#000', borderWidth: 10, borderDash: [40, 35], borderCapStyle: 'butt',
    pointRadius: 0, tension: 0, clip: 0, order: -101
  });

  new Chart(document.getElementById('cb'), {
    type: 'line',
    data: { datasets: bData },
    options: {
      responsive: false, animation: false, devicePixelRatio: 1,
      layout: { padding: { top: 62, right: 0, bottom: 0, left: 0 } },
      plugins: { legend: { display: false }, tooltip: { enabled: false } },
      scales: {
        x: {
          type: 'linear', min: 0, max: bXMax,
          afterBuildTicks: s => { s.ticks = bTicksX.map(v => ({ value: v })); },
          afterFit: s => { s.height = 282; },
          grid: { display: false, drawTicks: false }, border: { display: false },
          ticks: { font: TICK_FONT, color: '#000', padding: 14, maxRotation: 0, autoSkip: false, callback: v => String(v) }
        },
        y: {
          type: 'linear', position: 'left', min: 0, max: 4,
          afterBuildTicks: s => { s.ticks = yTicks.map(v => ({ value: v })); },
          afterFit: s => { s.width = 77; },
          grid: { display: false, drawTicks: false }, border: { display: false },
          ticks: { display: false }
        },
        y2: {
          type: 'linear', position: 'right', min: 0, max: 4,
          afterBuildTicks: s => { s.ticks = yTicks.map(v => ({ value: v })); },
          afterFit: s => { s.width = 240; },
          grid: { display: false, drawTicks: false }, border: { display: false },
          ticks: { font: TICK_FONT, color: '#000', padding: 36, callback: v => String(v) }
        }
      }
    },
    plugins: [plugB]
  });
}

let built = false;
function go(){ if (!built){ built = true; build(); } }
if (document.fonts && document.fonts.load){
  Promise.all([
    document.fonts.load("94px 'Liberation Serif'"),
    document.fonts.load("italic 95px 'Liberation Serif'"),
    document.fonts.load("bold 96px 'Liberation Serif'")
  ]).then(go, go);
  setTimeout(go, 400);
} else { go(); }
</script>
</body></html>
